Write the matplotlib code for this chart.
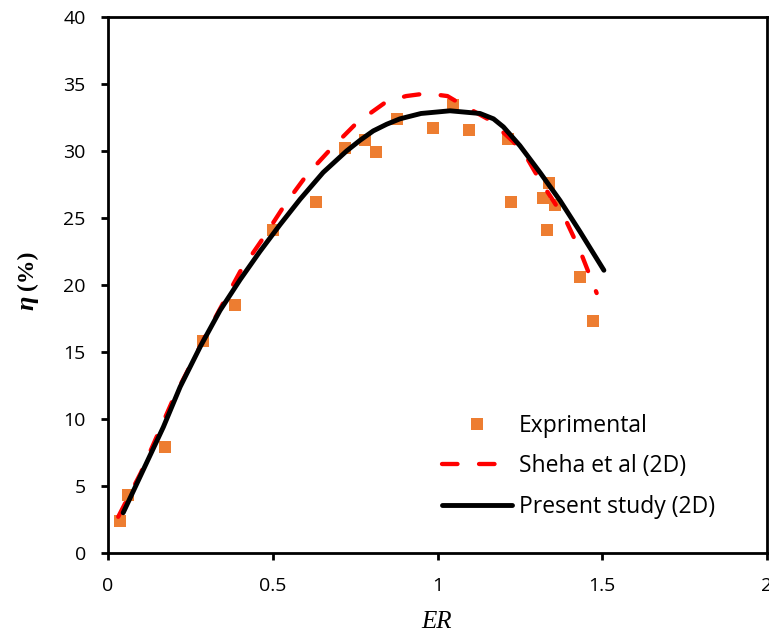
import matplotlib
matplotlib.use("Agg")
import matplotlib.pyplot as plt

# experimental efficiency points
er_exp = [0.036, 0.062, 0.173, 0.287, 0.385, 0.502, 0.631, 0.719, 0.780, 0.812, 0.878,
          0.987, 1.046, 1.096, 1.213, 1.222, 1.319, 1.339, 1.357, 1.331, 1.432, 1.473]
eta_exp = [2.4, 4.3, 7.9, 15.8, 18.5, 24.1, 26.2, 30.2, 30.8, 29.9, 32.4,
           31.7, 33.4, 31.6, 30.9, 26.2, 26.5, 27.6, 26.0, 24.1, 20.6, 17.3]

# Sheha et al (2D)
er_sheha = [0.031, 0.100, 0.200, 0.300, 0.401, 0.471, 0.537, 0.603, 0.674, 0.755, 0.846, 0.905,
            0.967, 1.030, 1.078, 1.159, 1.230, 1.271, 1.311, 1.351, 1.392, 1.432, 1.483]
eta_sheha = [2.7, 6.0, 11.6, 16.4, 21.0, 23.5, 26.0, 28.2, 30.1, 32.1, 33.7, 34.1,
             34.3, 34.1, 33.4, 32.3, 30.7, 29.5, 27.8, 26.3, 24.7, 22.6, 19.4]

# present study (2D)
er_present = [0.046, 0.107, 0.168, 0.219, 0.280, 0.340, 0.401, 0.461, 0.522, 0.583, 0.653, 0.724,
              0.765, 0.805, 0.846, 0.886, 0.950, 1.038, 1.129, 1.170, 1.200, 1.250, 1.311, 1.372,
              1.432, 1.505]
eta_present = [3.0, 6.2, 9.4, 12.4, 15.4, 18.1, 20.4, 22.5, 24.5, 26.4, 28.4, 30.0,
               30.8, 31.5, 32.0, 32.4, 32.8, 33.0, 32.8, 32.4, 31.8, 30.4, 28.4, 26.3,
               24.0, 21.1]

x_ticks = [0, 0.5, 1, 1.5, 2]
x_tick_labels = ["0", "0.5", "1", "1.5", "2"]
y_ticks = [0, 5, 10, 15, 20, 25, 30, 35, 40]

W, H = 769, 634
fig = plt.figure(figsize=(W / 100, H / 100), dpi=100)
ax = fig.add_axes([108 / W, 1 - 553 / H, (767 - 108) / W, (553 - 17) / H])

exp_h, = ax.plot(er_exp, eta_exp, ls="none", marker="s", ms=8.6, mew=0,
                 color="#ED7D31", zorder=2, label="Exprimental")
sheha_h, = ax.plot(er_sheha, eta_sheha, color="#FF0000", lw=3.1, dashes=(3.6, 5.0),
                   dash_capstyle="round", solid_capstyle="round", zorder=3,
                   label="Sheha et al (2D)")
present_h, = ax.plot(er_present, eta_present, color="black", lw=3.5,
                     solid_capstyle="round", solid_joinstyle="round", zorder=4,
                     label="Present study (2D)")

ax.set_xlim(0, 2)
ax.set_ylim(0, 40)
ax.set_xticks(x_ticks)
ax.set_xticklabels(x_tick_labels)
ax.set_yticks(y_ticks)

for sp in ax.spines.values():
    sp.set_linewidth(2)
ax.tick_params(axis="both", direction="out", length=5, width=2,
               labelsize=14, color="black")
ax.tick_params(axis="x", pad=12)
ax.tick_params(axis="y", pad=11)
for lab in ax.get_xticklabels() + ax.get_yticklabels():
    lab.set_fontfamily("Open Sans")

leg = ax.legend(handles=[exp_h, sheha_h, present_h], loc="upper left",
                bbox_to_anchor=(442 / W, 1 - 414 / H), bbox_transform=fig.transFigure,
                frameon=False, numpoints=1, handlelength=3.05, handletextpad=0.3,
                labelspacing=0.72, borderpad=0, borderaxespad=0,
                prop={"family": "Open Sans", "size": 16.5})

# axis titles
fig.text(27 / W, 1 - 303 / H, "η", rotation=90, ha="center", va="center",
         family="Liberation Serif", style="italic", weight="bold", fontsize=19)
fig.text(27 / W, 1 - 270 / H, "(%)", rotation=90, ha="center", va="center",
         family="Liberation Serif", weight="bold", fontsize=17)
fig.text(437 / W, 1 - 622 / H, "ER", ha="center", va="center",
         family="Liberation Serif", style="italic", fontsize=18)

fig.savefig("out.png", dpi=100)
